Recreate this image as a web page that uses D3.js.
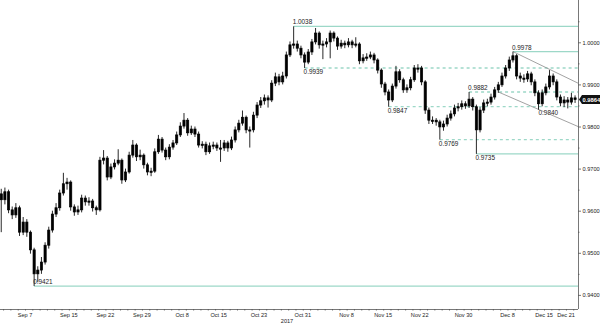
<!DOCTYPE html>
<html>
<head>
<meta charset="utf-8">
<script src="https://cdn.jsdelivr.net/npm/d3@7"></script>
<style>
body{margin:0;background:#fff;}
svg{display:block;font-family:"Liberation Sans",Arial,sans-serif;}
</style>
</head>
<body>
<svg id="chart" width="600" height="323"></svg>
<script>
// half-day bars, Sep 4 2017 -> Dec 21 2017
var firstOpen = 0.9640;
var closes = [
 0.9626,0.9645,0.9602,0.9590,0.9607,0.9549,0.9573,0.9549,0.9507,0.9450,
 0.9459,0.9478,0.9518,0.9554,0.9592,0.9607,0.9642,0.9664,0.9668,0.9609,
 0.9597,0.9602,0.9630,0.9621,0.9623,0.9607,0.9602,0.9720,0.9725,0.9680,
 0.9704,0.9713,0.9720,0.9673,0.9692,0.9732,0.9756,0.9728,0.9732,0.9709,
 0.9692,0.9694,0.9740,0.9770,0.9744,0.9728,0.9751,0.9761,0.9780,0.9801,
 0.9815,0.9785,0.9794,0.9782,0.9756,0.9758,0.9740,0.9754,0.9756,0.9749,
 0.9749,0.9761,0.9749,0.9768,0.9792,0.9808,0.9822,0.9792,0.9792,0.9827,
 0.9851,0.9861,0.9868,0.9863,0.9903,0.9918,0.9906,0.9920,0.9970,0.9994,
 0.9996,0.9986,0.9970,0.9953,0.9977,1.0001,1.0022,0.9994,0.9996,1.0001,
 1.0022,1.0010,0.9991,0.9998,0.9994,1.0001,0.9994,0.9996,0.9956,0.9963,
 0.9965,0.9970,0.9958,0.9934,0.9901,0.9882,0.9863,0.9896,0.9930,0.9911,
 0.9887,0.9892,0.9911,0.9939,0.9939,0.9906,0.9839,0.9815,0.9815,0.9811,
 0.9799,0.9806,0.9820,0.9830,0.9844,0.9847,0.9854,0.9849,0.9865,0.9847,
 0.9792,0.9839,0.9856,0.9858,0.9870,0.9887,0.9899,0.9920,0.9939,0.9958,
 0.9968,0.9920,0.9915,0.9913,0.9925,0.9906,0.9880,0.9854,0.9880,0.9894,
 0.9920,0.9906,0.9870,0.9856,0.9863,0.9858,0.9868,0.9864];
var highs = [
 0.9652,0.9655,0.9650,0.9610,0.9618,0.9612,0.9585,0.9580,0.9553,0.9512,
 0.9468,0.9490,0.9525,0.9562,0.9600,0.9618,0.9650,0.9690,0.9678,0.9672,
 0.9615,0.9612,0.9638,0.9636,0.9632,0.9628,0.9612,0.9728,0.9744,0.9730,
 0.9712,0.9722,0.9746,0.9724,0.9700,0.9740,0.9768,0.9760,0.9745,0.9736,
 0.9714,0.9702,0.9748,0.9780,0.9775,0.9750,0.9758,0.9768,0.9788,0.9810,
 0.9832,0.9820,0.9802,0.9800,0.9788,0.9765,0.9764,0.9762,0.9764,0.9762,
 0.9768,0.9768,0.9766,0.9776,0.9800,0.9816,0.9838,0.9826,0.9800,0.9835,
 0.9858,0.9870,0.9876,0.9874,0.9910,0.9928,0.9925,0.9930,0.9978,1.0002,
 1.0038,1.0004,0.9992,0.9976,0.9984,1.0008,1.0034,1.0026,1.0004,1.0010,
 1.0028,1.0026,1.0014,1.0006,1.0004,1.0010,1.0006,1.0012,1.0000,0.9972,
 0.9974,0.9978,0.9975,0.9962,0.9938,0.9906,0.9888,0.9902,0.9944,0.9936,
 0.9916,0.9900,0.9918,0.9946,0.9948,0.9944,0.9910,0.9845,0.9824,0.9820,
 0.9816,0.9814,0.9828,0.9838,0.9852,0.9856,0.9862,0.9860,0.9882,0.9870,
 0.9852,0.9846,0.9864,0.9866,0.9878,0.9894,0.9906,0.9928,0.9946,0.9966,
 0.9978,0.9972,0.9928,0.9924,0.9932,0.9930,0.9912,0.9886,0.9888,0.9902,
 0.9934,0.9926,0.9912,0.9876,0.9872,0.9870,0.9880,0.9874];
var lows = [
 0.9549,0.9615,0.9594,0.9580,0.9583,0.9540,0.9542,0.9538,0.9498,0.9421,
 0.9430,0.9450,0.9472,0.9510,0.9548,0.9585,0.9600,0.9636,0.9650,0.9600,
 0.9588,0.9590,0.9596,0.9612,0.9612,0.9598,0.9590,0.9598,0.9710,0.9672,
 0.9675,0.9698,0.9708,0.9664,0.9668,0.9688,0.9726,0.9718,0.9720,0.9700,
 0.9684,0.9682,0.9690,0.9735,0.9738,0.9720,0.9722,0.9745,0.9756,0.9775,
 0.9795,0.9778,0.9780,0.9775,0.9750,0.9748,0.9732,0.9735,0.9746,0.9742,
 0.9716,0.9742,0.9740,0.9744,0.9762,0.9786,0.9802,0.9784,0.9750,0.9786,
 0.9820,0.9844,0.9852,0.9845,0.9858,0.9896,0.9898,0.9900,0.9914,0.9965,
 0.9985,0.9978,0.9962,0.9939,0.9948,0.9970,0.9995,0.9985,0.9960,0.9988,
 0.9962,1.0002,0.9982,0.9985,0.9986,0.9988,0.9986,0.9988,0.9948,0.9950,
 0.9956,0.9960,0.9950,0.9926,0.9892,0.9874,0.9847,0.9858,0.9890,0.9904,
 0.9880,0.9880,0.9886,0.9906,0.9928,0.9898,0.9830,0.9806,0.9806,0.9802,
 0.9769,0.9790,0.9800,0.9814,0.9824,0.9836,0.9840,0.9842,0.9844,0.9838,
 0.9735,0.9786,0.9832,0.9848,0.9852,0.9864,0.9880,0.9894,0.9914,0.9932,
 0.9952,0.9912,0.9906,0.9904,0.9906,0.9898,0.9872,0.9840,0.9848,0.9874,
 0.9888,0.9898,0.9862,0.9848,0.9846,0.9843,0.9852,0.9856];

// axis labels
var dateLabels = ["Sep 7","Sep 15","Sep 22","Sep 29","Oct 8","Oct 15","Oct 23","Oct 31","Nov 8","Nov 15","Nov 22","Nov 30","Dec 8","Dec 15","Dec 21"];
var dateTicks = ["2017-09-07","2017-09-15","2017-09-22","2017-09-29","2017-10-08","2017-10-15","2017-10-23","2017-10-31","2017-11-08","2017-11-15","2017-11-22","2017-11-30","2017-12-08","2017-12-15","2017-12-21"];
var priceTicks = [0.94,0.95,0.96,0.97,0.98,0.99,1.00];
var priceMinorTicks = [0.945,0.955,0.965,0.975,0.985,0.995,1.005];
var yearLabel = "2017";

// marked levels: value, bar it starts from
var levelValues = [1.0038, 0.9978, 0.9939, 0.9882, 0.9847, 0.9769, 0.9735, 0.9421];
var levelBars   = [80, 140, 83, 128, 106, 120, 130, 9];
var extraLabel = {value: 0.9840, bar: 147};
var lastPrice = 0.9864;

// falling channel, [start value, end value]
var channelUpper = [0.9978, 0.9903];
var channelLower = [0.9882, 0.9800];

// trading calendar (weekends dropped), day index 0 = Sep 7
var days = [];
for(var dt = new Date(2017, 8, 4); dt <= new Date(2017, 11, 21); dt.setDate(dt.getDate()+1)){
	if(dt.getDay() != 0 && dt.getDay() != 6) days.push(d3.timeFormat("%Y-%m-%d")(dt));
}
var day0 = days.indexOf("2017-09-07");
function tradingIndex(s){
	var i = days.indexOf(s);
	if(i >= 0) return i - day0;
	// weekend date -> start of next monday
	var dt = d3.timeParse("%Y-%m-%d")(s);
	while(days.indexOf(d3.timeFormat("%Y-%m-%d")(dt)) < 0) dt.setDate(dt.getDate()+1);
	return days.indexOf(d3.timeFormat("%Y-%m-%d")(dt)) - day0 - 0.5;
}

var bars = [];
for(var i = 0; i < closes.length; i++){
	var dayIdx = Math.floor(i/2) - day0;
	bars.push({
		t: dayIdx + (i % 2 == 0 ? -0.25 : 0.25),
		o: i == 0 ? firstOpen : closes[i-1],
		h: highs[i], l: lows[i], c: closes[i]
	});
}

var svg = d3.select("#chart"),
	plotRight = 578,
	plotBottom = 309;

var xScale = d3.scaleLinear().domain([-3.42, 75.65]).range([0, plotRight]);
var yScale = d3.scaleLinear().domain([0.93665, 1.01005]).range([plotBottom, 0]);

var teal = "#9dd8c8";

// levels
var levelG = svg.append("g");
levelValues.forEach(function(v, k){
	var dashed = [2,3,4,5].indexOf(k) >= 0;
	var above = [0,1,3,7].indexOf(k) >= 0;
	var x0 = xScale(bars[levelBars[k]].t);
	levelG.append("line")
		.attr("x1", x0).attr("x2", plotRight)
		.attr("y1", yScale(v)).attr("y2", yScale(v))
		.style("stroke", teal)
		.style("stroke-width", 1.3)
		.style("stroke-dasharray", dashed ? "3,3" : null);
	levelG.append("text")
		.attr("x", x0 - 1)
		.attr("y", yScale(v) + (above ? -2 : 6.5))
		.style("font-size", "6.4px")
		.style("fill", "#222")
		.text(d3.format(".4f")(v));
});
levelG.append("text")
	.attr("x", xScale(bars[extraLabel.bar].t))
	.attr("y", yScale(extraLabel.value) + 5.5)
	.style("font-size", "6.4px")
	.style("fill", "#222")
	.text(d3.format(".4f")(extraLabel.value));

// channel
var chanG = svg.append("g").style("stroke", "#8a8a8a").style("stroke-width", 0.8);
chanG.append("line")
	.attr("x1", xScale(bars[140].t)).attr("y1", yScale(channelUpper[0]))
	.attr("x2", plotRight).attr("y2", yScale(channelUpper[1]));
chanG.append("line")
	.attr("x1", xScale(bars[136].t)).attr("y1", yScale(channelLower[0]))
	.attr("x2", plotRight).attr("y2", yScale(channelLower[1]));

// candles
var candle = svg.append("g").selectAll("g").data(bars).enter().append("g");
candle.append("line")
	.attr("x1", function(d){ return xScale(d.t); })
	.attr("x2", function(d){ return xScale(d.t); })
	.attr("y1", function(d){ return yScale(d.h); })
	.attr("y2", function(d){ return yScale(d.l); })
	.style("stroke", "#111")
	.style("stroke-width", 0.9);
candle.append("rect")
	.attr("x", function(d){ return xScale(d.t) - 1.1; })
	.attr("width", 2.2)
	.attr("y", function(d){ return yScale(Math.max(d.o, d.c)); })
	.attr("height", function(d){ return Math.max(1.2, Math.abs(yScale(d.o) - yScale(d.c))); })
	.style("fill", "#000")
	.style("stroke", "#000")
	.style("stroke-width", 0.7);

// right price axis
var yAxis = svg.append("g")
	.attr("transform", "translate(" + plotRight + ",0)")
	.call(d3.axisRight(yScale).tickValues(priceTicks).tickSize(3).tickPadding(1.5).tickFormat(d3.format(".4f")));
svg.append("g")
	.attr("transform", "translate(" + plotRight + ",0)")
	.call(d3.axisRight(yScale).tickValues(priceMinorTicks).tickSize(1.5).tickFormat(""))
	.select(".domain").remove();
yAxis.select(".domain").attr("d", "M0.5,0V" + plotBottom);

// bottom date axis
var xAxis = svg.append("g")
	.attr("transform", "translate(0," + plotBottom + ")")
	.call(d3.axisBottom(xScale)
		.tickValues(days.map(function(s, i){ return i - day0; }))
		.tickSize(1.5).tickFormat(""));
xAxis.select(".domain").attr("d", "M0,0.5H" + plotRight);
var labG = svg.append("g").attr("transform", "translate(0," + plotBottom + ")");
dateTicks.forEach(function(s, k){
	var x = Math.min(xScale(tradingIndex(s)), plotRight - 12);
	labG.append("text")
		.attr("x", x).attr("y", 8)
		.attr("text-anchor", "middle")
		.style("font-size", "5.6px")
		.style("fill", "#222")
		.text(dateLabels[k]);
});
labG.append("text")
	.attr("x", 287).attr("y", 13.5)
	.attr("text-anchor", "middle")
	.style("font-size", "5.6px")
	.style("fill", "#222")
	.text(yearLabel);

svg.selectAll(".domain, .tick line").style("stroke", "#555").style("stroke-width", 0.8);
svg.selectAll(".tick text").style("font-size", "5.6px").style("fill", "#222").style("font-family", "Liberation Sans, Arial, sans-serif");

// last price tag
var py = yScale(lastPrice);
svg.append("path")
	.attr("d", "M" + (plotRight + 1) + "," + py + "L" + (plotRight + 4) + "," + (py - 4.5) + "H600V" + (py + 4.5) + "H" + (plotRight + 4) + "Z")
	.style("fill", "#111");
svg.append("text")
	.attr("x", plotRight + 4.5).attr("y", py + 2)
	.style("font-size", "5.8px")
	.style("fill", "#fff")
	.style("font-weight", "bold")
	.text(d3.format(".4f")(lastPrice));
</script>
</body>
</html>
